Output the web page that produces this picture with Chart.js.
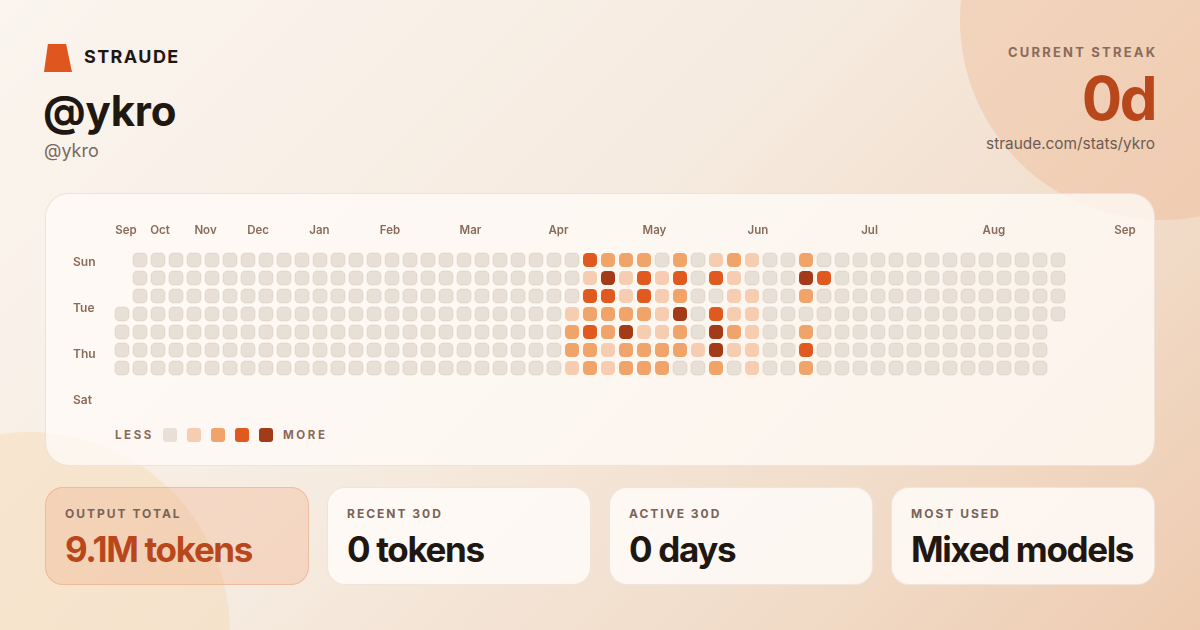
<!DOCTYPE html>
<html>
<head>
<meta charset="utf-8">
<script src="https://cdn.jsdelivr.net/npm/chart.js@4.4.1/dist/chart.umd.min.js"></script>
<style>
  html, body { margin: 0; padding: 0; }
  body { width: 1200px; height: 630px; overflow: hidden; font-family: Inter, "Noto Sans", sans-serif; }
  .page { position: relative; width: 1200px; height: 630px; overflow: hidden;
    background: linear-gradient(135deg, #fbf5ef 0%, #f6ebe0 45%, #f1dcc9 75%, #eecbb0 100%); }
  .blob { position: absolute; border-radius: 50%; }
  .blob.tr { left: 960px; top: -180px; width: 400px; height: 400px; background: rgba(236, 176, 134, 0.34); }
  .blob.bl { left: -170px; top: 432px; width: 400px; height: 400px; background: rgba(244, 214, 172, 0.38); }
  .abs { position: absolute; white-space: nowrap; line-height: 1; }
  .logo { left: 44px; top: 44px; width: 28px; height: 28px; background: #e0561f;
    clip-path: polygon(14% 0, 79% 0, 100% 100%, 0 100%); }
  .brand { left: 84px; top: 48px; font-size: 18px; font-weight: 700; letter-spacing: 1.4px; color: #1f1712; }
  .handle { left: 43px; top: 90px; font-size: 42px; font-weight: 700; letter-spacing: -0.2px; color: #1f1712; }
  .sub { left: 44px; top: 142px; font-size: 18px; color: #7b6a60; }
  .right { right: 45px; text-align: right; }
  .streak-label { top: 46px; font-size: 13px; font-weight: 700; letter-spacing: 2.2px; color: #8a6b5a; margin-right: -2.2px; }
  .streak { top: 68px; font-size: 60px; font-weight: 700; letter-spacing: -2.5px; color: #b9471c; }
  .url { top: 136px; font-size: 15.4px; color: #6d5c52; }
  .card { position: absolute; left: 45px; top: 193px; width: 1108px; height: 271px; border-radius: 24px;
    background: rgba(255, 251, 247, 0.78); border: 1px solid rgba(232, 218, 204, 0.7); }
  .legend { left: 115px; top: 430px; font-size: 11.5px; font-weight: 700; letter-spacing: 2.6px; color: #8a6b5a; }
  .sq { position: absolute; top: 428px; width: 14px; height: 14px; border-radius: 3px; }
  .stat { position: absolute; top: 487px; width: 262px; height: 96px; border-radius: 18px;
    background: rgba(255, 252, 249, 0.85); border: 1px solid rgba(236, 224, 212, 0.8); }
  .stat.hi { background: rgba(238, 170, 128, 0.3); border-color: rgba(232, 156, 112, 0.45); }
  .stat .lab { position: absolute; left: 19px; top: 20px; font-size: 12px; font-weight: 700; letter-spacing: 2px;
    color: #7a6356; line-height: 1; white-space: nowrap; }
  .stat .val { position: absolute; left: 19px; top: 44px; font-size: 35px; font-weight: 700; letter-spacing: -1.35px;
    color: #1f1712; line-height: 1; white-space: nowrap; }
  .stat.hi .val { color: #b9471c; }
  #heat { position: absolute; left: 0; top: 0; }
</style>
</head>
<body>
<div class="page">
  <div class="blob tr"></div>
  <div class="blob bl"></div>

  <div class="abs logo"></div>
  <div class="abs brand">STRAUDE</div>
  <div class="abs handle">@ykro</div>
  <div class="abs sub">@ykro</div>

  <div class="abs right streak-label">CURRENT STREAK</div>
  <div class="abs right streak">0d</div>
  <div class="abs right url">straude.com/stats/ykro</div>

  <div class="card"></div>
  <div class="abs legend">LESS</div>
  <div class="sq" style="left:163px;background:#e8e0d6"></div>
  <div class="sq" style="left:187px;background:#f6cdb0"></div>
  <div class="sq" style="left:211px;background:#f0a46a"></div>
  <div class="sq" style="left:235px;background:#e05a20"></div>
  <div class="sq" style="left:259px;background:#a33a18"></div>
  <div class="abs legend" style="left:283px">MORE</div>

  <div class="stat hi" style="left:45px"><div class="lab">OUTPUT TOTAL</div><div class="val">9.1M tokens</div></div>
  <div class="stat" style="left:327px"><div class="lab">RECENT 30D</div><div class="val">0 tokens</div></div>
  <div class="stat" style="left:609px"><div class="lab">ACTIVE 30D</div><div class="val">0 days</div></div>
  <div class="stat" style="left:891px"><div class="lab">MOST USED</div><div class="val">Mixed models</div></div>

  <canvas id="heat" width="1200" height="630"></canvas>
</div>
<script>
// month labels along the top, at their position in week columns
var monthLabels = ['Sep', 'Oct', 'Nov', 'Dec', 'Jan', 'Feb', 'Mar', 'Apr', 'May', 'Jun', 'Jul', 'Aug', 'Sep'];
var monthTickPos = [0.22, 2.11, 4.64, 7.56, 10.97, 14.89, 19.36, 24.25, 29.58, 35.33, 41.53, 48.44, 55.72];
var dayLabels = ['Sun', 'Tue', 'Thu', 'Sat'];
var dayTickPos = [0.11, 2.67, 5.22, 7.78];

var weekCount = 53;
var firstWeekFromRow = 3;   // first column only has the last 4 days
var lastWeekToRow = 3;      // last column only has the first 4 days

// activity levels (0-4) for weeks 25..39, one list per weekday row; all other days are 0
var activeFromWeek = 25;
var row0 = [0, 3, 2, 2, 2, 0, 2, 0, 1, 2, 1, 0, 0, 2, 0];
var row1 = [0, 1, 4, 1, 3, 1, 3, 0, 3, 1, 0, 0, 0, 4, 3];
var row2 = [0, 3, 3, 1, 3, 1, 2, 0, 0, 1, 1, 0, 0, 2, 0];
var row3 = [1, 2, 2, 2, 2, 1, 4, 0, 3, 1, 1, 0, 0, 0, 0];
var row4 = [2, 3, 2, 4, 1, 1, 2, 0, 4, 2, 1, 0, 0, 2, 0];
var row5 = [2, 2, 1, 2, 2, 2, 2, 1, 4, 1, 1, 0, 0, 3, 0];
var row6 = [1, 2, 1, 2, 2, 2, 0, 0, 2, 0, 1, 0, 0, 2, 0];

var levelColors = ['#e8e0d6', '#f6cdb0', '#f0a46a', '#e05a20', '#a33a18'];

var rows = [row0, row1, row2, row3, row4, row5, row6];
var cells = [];
for (var w = 0; w < weekCount; w++) {
  for (var r = 0; r < 7; r++) {
    if (w === 0 && r < firstWeekFromRow) continue;
    if (w === weekCount - 1 && r > lastWeekToRow) continue;
    var k = w - activeFromWeek;
    var v = (k >= 0 && k < rows[r].length) ? rows[r][k] : 0;
    cells.push({ x: w, y: r, v: v });
  }
}

var labelColor = '#8a6b5a';

new Chart(document.getElementById('heat'), {
  type: 'scatter',
  data: {
    datasets: [{
      data: cells,
      pointStyle: 'rectRounded',
      pointRadius: 8.15,
      pointHoverRadius: 8.15,
      pointBackgroundColor: function (ctx) { return levelColors[ctx.raw.v]; },
      pointBorderColor: function (ctx) { return ctx.raw.v === 0 ? 'rgba(190,172,152,0.25)' : 'rgba(0,0,0,0)'; },
      pointBorderWidth: 1,
      clip: false
    }]
  },
  options: {
    responsive: false,
    animation: false,
    events: [],
    layout: { padding: { left: 73, top: 224, right: 70, bottom: 226 } },
    plugins: { legend: { display: false }, tooltip: { enabled: false } },
    scales: {
      x: {
        type: 'linear', position: 'top', min: -1, max: 56,
        grid: { display: false, drawTicks: false }, border: { display: false },
        afterBuildTicks: function (s) { s.ticks = monthTickPos.map(function (p) { return { value: p }; }); },
        afterFit: function (s) { s.height = 18; },
        ticks: {
          autoSkip: false, maxRotation: 0, padding: 5, color: labelColor,
          font: { family: 'Inter', size: 11.5, weight: '600' },
          callback: function (val, i) { return monthLabels[i]; }
        }
      },
      y: {
        type: 'linear', reverse: true, min: -1, max: 8,
        grid: { display: false, drawTicks: false }, border: { display: false },
        afterBuildTicks: function (s) { s.ticks = dayTickPos.map(function (p) { return { value: p }; }); },
        afterFit: function (s) { s.width = 31; },
        ticks: {
          autoSkip: false, crossAlign: 'far', color: labelColor,
          font: { family: 'Inter', size: 12, weight: '600' },
          callback: function (val, i) { return dayLabels[i]; }
        }
      }
    }
  }
});
</script>
</body>
</html>
